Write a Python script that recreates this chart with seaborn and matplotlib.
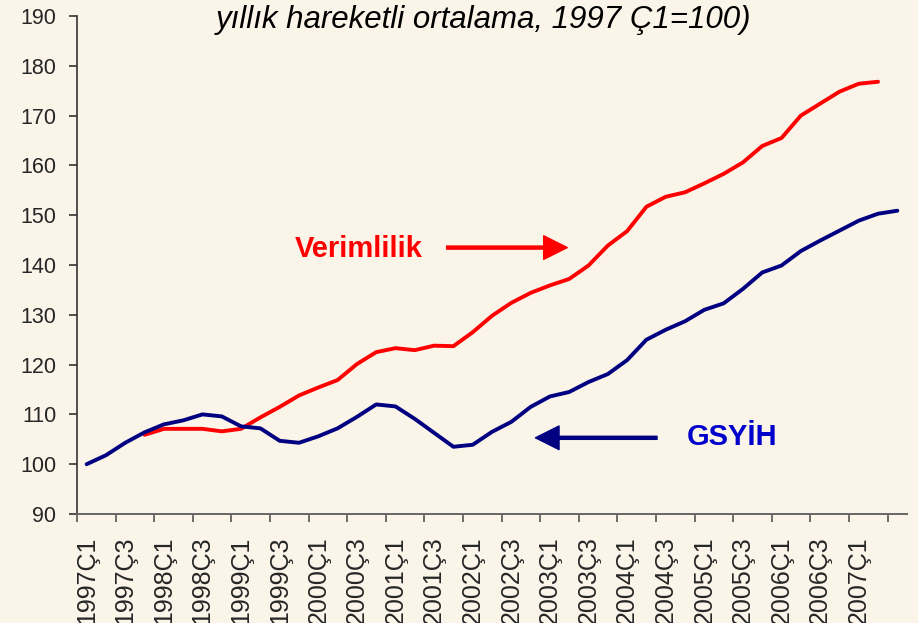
import numpy as np
import pandas as pd
import matplotlib
matplotlib.use('Agg')
import matplotlib.pyplot as plt
import seaborn as sns

# çeyrekler: 1997Ç1 - 2007Ç3
ceyrekler = [f'{y}Ç{q}' for y in range(1997, 2008) for q in range(1, 5)][:43]

gsyih = [100.0, 101.8, 104.3, 106.4, 108.0, 108.8, 110.0, 109.6, 107.6, 107.2,
         104.7, 104.3, 105.6, 107.2, 109.5, 112.0, 111.6, 109.1, 106.3, 103.5,
         103.9, 106.5, 108.5, 111.5, 113.6, 114.5, 116.5, 118.1, 120.9, 125.0,
         127.0, 128.7, 131.0, 132.3, 135.2, 138.5, 139.9, 142.8, 144.9, 146.9,
         148.9, 150.3, 150.9]

verimlilik = [np.nan, np.nan, np.nan, 105.9, 107.1, 107.1, 107.1, 106.6, 107.1, 109.4,
              111.5, 113.8, 115.4, 116.9, 120.1, 122.5, 123.3, 122.9, 123.8, 123.7,
              126.5, 129.8, 132.4, 134.4, 135.9, 137.2, 139.9, 143.9, 146.8, 151.7,
              153.7, 154.6, 156.4, 158.3, 160.6, 163.9, 165.5, 170.0, 172.4, 174.8,
              176.4, 176.8, np.nan]

y_ticks = list(range(90, 191, 10))
baslik = 'yıllık hareketli ortalama, 1997 Ç1=100)'

sns.set_style('ticks')
plt.rcParams['font.family'] = ['Liberation Sans', 'DejaVu Sans']

arka = '#FAF4E9'
kirmizi = '#FF0000'
lacivert = '#000080'

df = pd.DataFrame({'sira': np.arange(len(ceyrekler)),
                   'GSYİH': gsyih,
                   'Verimlilik': verimlilik})

fig = plt.figure(figsize=(9.18, 6.23), dpi=100, facecolor=arka)
ax = fig.add_axes([77 / 918, 1 - 514 / 623, 830 / 918, 498 / 623])
ax.set_facecolor(arka)

sns.lineplot(data=df, x='sira', y='Verimlilik', color=kirmizi, lw=2.8, ax=ax)
sns.lineplot(data=df, x='sira', y='GSYİH', color=lacivert, lw=2.8, ax=ax)

ax.set_xlim(-0.5, len(ceyrekler) - 0.5)
ax.set_ylim(90, 190)
ax.set_yticks(y_ticks)
ax.set_yticklabels([str(v) for v in y_ticks], fontsize=15.5)

# ana tikler kategori sınırlarında, etiketler kategori ortasında
ax.set_xticks(np.arange(-0.5, len(ceyrekler) - 1, 2))
ax.set_xticklabels([])
ax.set_xticks(np.arange(0, len(ceyrekler) - 1, 2), minor=True)
ax.set_xticklabels(ceyrekler[0:len(ceyrekler) - 1:2], minor=True,
                   rotation=90, fontsize=18)
ax.tick_params(axis='x', which='major', length=6, width=1.2, color='#555555', direction='out')
ax.tick_params(axis='x', which='minor', length=0, pad=16)
ax.tick_params(axis='y', length=6, width=1.2, color='#333333', pad=9)

ax.set_xlabel('')
ax.set_ylabel('')
sns.despine(ax=ax)
ax.spines['left'].set_color('#333333')
ax.spines['bottom'].set_color('#666666')
ax.spines['left'].set_linewidth(1.2)
ax.spines['bottom'].set_linewidth(1.4)

# etiketler ve oklar
ax.text(10.8, 143.3, 'Verimlilik', color=kirmizi, fontsize=21,
        fontweight='bold', ha='left', va='center')
ax.annotate('', xy=(24.9, 143.5), xytext=(18.65, 143.5),
            arrowprops=dict(color=kirmizi, width=2.2, headwidth=17,
                            headlength=17, shrink=0))

ax.text(31.1, 105.4, 'GSYİH', color='#0000CC', fontsize=21,
        fontweight='bold', ha='left', va='center')
ax.annotate('', xy=(23.25, 105.3), xytext=(29.55, 105.3),
            arrowprops=dict(color=lacivert, width=2.2, headwidth=17,
                            headlength=17, shrink=0))

fig.text(484 / 918, 1 - 28 / 623, baslik, fontsize=22.5, style='italic',
         ha='center', va='baseline', color='black')

fig.savefig('out.png', dpi=100, facecolor=arka)
